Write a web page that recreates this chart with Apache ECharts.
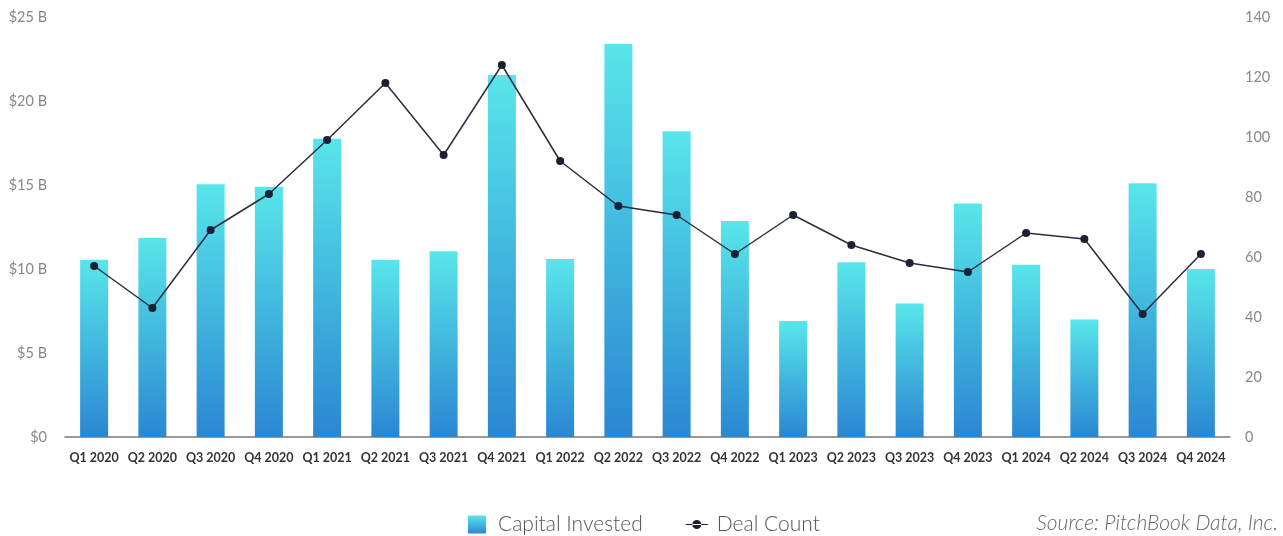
<!DOCTYPE html>
<html>
<head>
<meta charset="utf-8">
<script src="https://cdn.jsdelivr.net/npm/echarts@6/dist/echarts.min.js"></script>
<style>
html,body{margin:0;padding:0;background:#fff;}
#chart{width:1283px;height:536px;}
</style>
</head>
<body>
<div id="chart"></div>
<script>
const categories = ["Q1 2020","Q2 2020","Q3 2020","Q4 2020","Q1 2021","Q2 2021","Q3 2021","Q4 2021","Q1 2022","Q2 2022","Q3 2022","Q4 2022","Q1 2023","Q2 2023","Q3 2023","Q4 2023","Q1 2024","Q2 2024","Q3 2024","Q4 2024"];
const capitalInvested = [10.55,11.85,15.05,14.9,17.75,10.55,11.05,21.55,10.6,23.4,18.2,12.85,6.9,10.4,7.95,13.9,10.25,7.0,15.1,10.0];
const dealCount = [57,43,69,81,99,118,94,124,92,77,74,61,74,64,58,55,68,66,41,61];
const leftTicks = {min:0, max:25, interval:5};
const rightTicks = {min:0, max:140, interval:20};

const chart = echarts.init(document.getElementById('chart'));
const font = 'Lato, "Noto Sans", sans-serif';
chart.setOption({
  animation:false,
  textStyle:{fontFamily:font},
  grid:{left:65, right:53, top:17, bottom:99, containLabel:false},
  legend:{
    top:509, left:462,
    itemGap:43, itemWidth:26, itemHeight:18,
    textStyle:{fontFamily:font, fontSize:21, color:'#555', fontWeight:300},
    data:[
      {name:'Capital Invested', icon:'path://M0,0 L0.01,0 Z M1,0 L19,0 L19,18 L1,18 Z M26,18 L25.99,18 Z'},
      {name:'Deal Count', icon:'path://M0,0 L0.01,0 Z M0,8.4 L22,8.4 L22,9.6 L0,9.6 Z M6.5,9 A4.5,4.5 0 1,0 15.5,9 A4.5,4.5 0 1,0 6.5,9 Z M26,18 L25.99,18 Z'}
    ]
  },
  graphic:[{
    type:'text', right:5, top:513,
    style:{text:'Source: PitchBook Data, Inc.', font:'italic 300 21px '+font, fill:'#666', textAlign:'right'}
  }],
  xAxis:{
    type:'category', data:categories,
    axisLine:{lineStyle:{color:'#777', width:1.5}},
    axisTick:{show:false},
    axisLabel:{fontFamily:font, fontSize:12.5, fontWeight:'bold', color:'#333', margin:14, interval:0}
  },
  yAxis:[{
    type:'value', min:leftTicks.min, max:leftTicks.max, interval:leftTicks.interval,
    splitLine:{show:false}, axisLine:{show:false}, axisTick:{show:false},
    axisLabel:{fontFamily:font, fontSize:14.5, color:'#888', margin:18,
      formatter:v=> v===0 ? '$0' : '$'+v+' B'}
  },{
    type:'value', min:rightTicks.min, max:rightTicks.max, interval:rightTicks.interval,
    splitLine:{show:false}, axisLine:{show:false}, axisTick:{show:false},
    axisLabel:{fontFamily:font, fontSize:14.5, color:'#888', margin:15}
  }],
  series:[{
    name:'Capital Invested', type:'bar', data:capitalInvested, yAxisIndex:0,
    barWidth:28,
    itemStyle:{color:new echarts.graphic.LinearGradient(0,0,0,1,[
      {offset:0,color:'#58E6EA'},{offset:1,color:'#2A87D2'}])}
  },{
    name:'Deal Count', type:'line', data:dealCount, yAxisIndex:1,
    symbol:'circle', symbolSize:8,
    lineStyle:{color:'#2a2d3e', width:1.5},
    itemStyle:{color:'#1c2035'}
  }]
});
</script>
</body>
</html>
